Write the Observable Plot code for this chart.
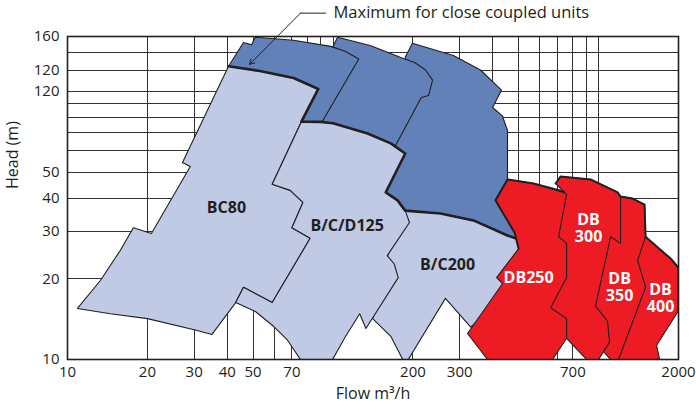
<!DOCTYPE html>
<html>
<head>
<meta charset="utf-8">
<script src="https://cdn.jsdelivr.net/npm/d3@7"></script>
<script src="https://cdn.jsdelivr.net/npm/@observablehq/plot@0.6"></script>
<style>
  body { margin: 0; background: #fff; }
</style>
</head>
<body>
<div id="chart"></div>
<script>
// ---- axis ticks (values and printed labels, as in the original) ----
const flowTicks = [10, 20, 30, 40, 50, 70, 200, 300, 800, 2000];
const flowTickLabels = ["10", "20", "30", "40", "50", "70", "200", "300", "700", "2000"];
const headTicks = [10, 20, 30, 40, 50, 100, 120, 160];
const headTickLabels = ["10", "20", "30", "40", "50", "120", "120", "160"];

// ---- grid ----
const flowGrid = [10, 20, 30, 40, 50, 60, 70, 80, 90, 100, 200, 300, 400, 500, 600, 700, 800, 900, 1000, 2000];
const headGrid = [10, 20, 30, 40, 50, 60, 70, 80, 90, 100, 120, 140, 160];

// ---- pump ranges: [flow m3/h, head m] ----
const bc80Upper = [[40.4,124],[46,152],[49.3,149],[51,159],[71,155],[98,147],[111,141],[125,132],[91,77],[76,77],[44.8,110]];
const bcd125Upper = [[104,159],[138,148],[184,132.5],[203,128],[223,120],[237,110],[229,96.4],[215,94.8],[172,62.8],[91,77],[99.6,146]];
const bc200Upper = [[199,151],[284,136],[359,120],[431,101],[399,87],[434,81],[454,71.4],[454,47.3],[508,33],[487,28.3],[277,29],[184,34.4],[144,39.2],[151,50.7],[172,62.8],[187,134]];

const bc80 = [[40.4,124],[53,119],[71,112],[88,102],[76,77],[59,45],[69,42.7],[77,38.5],[70,31],[82,28.3],[59,16.3],[46,18.6],[43,16.3],[35,12.4],[30,12.9],[20,14.2],[14.5,14.8],[10.9,15.5],[13.3,19.7],[15.8,25.5],[17.7,31],[20.7,29.5],[29,52.4],[27.1,54.3]];
const bcd125 = [[76,77],[90,76.9],[100,76],[135,69.6],[165,63.9],[187,58.6],[158,42],[175,39.2],[187,35.9],[194,32.4],[160,24.4],[170,22.7],[176,20.2],[133,13.05],[126,14.8],[111,12.1],[99.6,10],[75.4,10],[67.4,11.8],[59.7,13.3],[51,15.1],[43,16.3],[46,18.6],[59,16.3],[82,28.3],[70,31],[77,38.5],[69,42.7],[59,45]];
const bc200 = [[187,35.9],[254,35],[338,33],[454,29],[487,28.3],[555,25.5],[466,18.1],[330,13.2],[265,16.9],[192,10],[183,10],[165,12.2],[141,14.2],[151,18.1],[165,27.8]];

const db250 = [[454,46.9],[569,45.3],[758,41.6],[855,23.4],[758,12],[671,10],[382,10],[321,12.5],[435,19.2],[413,20.2],[500,25.9],[483,29.7],[409,39.2]];
const db300 = [[719,48.1],[933,46.9],[1179,42],[1210,40.5],[1319,27.8],[1129,12.8],[1100,11.6],[1000,10],[901,10],[758,12],[758,14.2],[660,15.6],[758,20.2],[758,27.1],[707,28.7],[758,41.2],[689,45.3]];
const db350 = [[1210,40.5],[1343,39.8],[1490,37.8],[1503,28.7],[1639,16.6],[1264,10],[1110,10],[1044,10.7],[1100,11.6],[1081,13.9],[974,15.8],[1110,28.7],[1210,27.1]];
const db400 = [[1503,28.7],[1668,26.2],[1867,23.8],[2000,22],[2000,15.2],[1654,11.3],[1698,10],[1189,10],[1503,18.6],[1403,23.4]];

// boundary lines
const closeCoupledMax = [[40.4,124],[53,119],[71,112],[88,102],[76,77],[90,76.9],[100,76],[135,69.6],[165,63.9],[187,58.6],[158,42],[175,39.2],[187,35.9],[254,35],[338,33],[454,29],[487,28.3]];
const dbEnvelopeA = [[500,25.9],[483,29.7],[409,39.2],[454,46.9],[569,45.3],[738,42.3]];
const dbEnvelopeB = [[689,45.3],[719,48.1],[933,46.9],[1179,42],[1210,40.5],[1343,39.8],[1490,37.8],[1503,28.7],[1668,26.2],[1867,23.8],[2000,22],[2000,15.2]];

// labels
const darkLabelNames = ["BC80", "B/C/D125", "B/C200"];
const darkLabelFlow = [39.7, 113, 270];
const darkLabelHead = [36.6, 31.6, 22.6];
const redLabelNames = ["DB250", "DB\n300", "DB\n350", "DB\n400"];
const redLabelFlow = [545, 917, 1200, 1712];
const redLabelHead = [20.2, 30.8, 18.6, 16.9];

// callout
const calloutText = "Maximum for close coupled units";
const calloutStart = [75.4, 195.5];
const calloutElbow = [93.7, 195.5];
const calloutTip = [48.5, 126];
const calloutTextAt = [100.4, 195.5];

const INK = "#231f20";
const LIGHT = "#c1cae5";
const DARK = "#6281b9";
const RED = "#ed1c24";

const pts = a => a.map(([f, h]) => ({f, h}));
const closed = a => pts([...a, a[0]]);
const shape = (a, fill) => Plot.line(closed(a), {
  x: "f", y: "h", fill, stroke: INK, strokeWidth: 1.1, strokeLinejoin: "round", clip: true
});

const chart = Plot.plot({
  width: 696,
  height: 416,
  marginLeft: 67,
  marginRight: 18,
  marginTop: 36,
  marginBottom: 57,
  style: {fontFamily: "'Open Sans', sans-serif", fontSize: "15px", color: INK, background: "#fff"},
  x: {type: "log", domain: [10, 2000], axis: null},
  y: {
    type: "log", domain: [10, 160], ticks: headTicks,
    tickFormat: d => headTickLabels[headTicks.indexOf(d)],
    tickSize: 0, tickPadding: 8, label: null
  },
  marks: [
    Plot.ruleX(flowGrid, {stroke: "#333", strokeWidth: 1, shapeRendering: "crispEdges"}),
    Plot.ruleY(headGrid, {stroke: "#333", strokeWidth: 1, shapeRendering: "crispEdges"}),
    shape(bc200Upper, DARK),
    shape(bcd125Upper, DARK),
    shape(bc80Upper, DARK),
    shape(bc200, LIGHT),
    shape(bc80, LIGHT),
    shape(bcd125, LIGHT),
    shape(db250, RED),
    shape(db300, RED),
    shape(db350, RED),
    shape(db400, RED),
    Plot.line(pts(closeCoupledMax), {x: "f", y: "h", stroke: INK, strokeWidth: 2.6, strokeLinejoin: "round", clip: true}),
    Plot.line(pts(dbEnvelopeA), {x: "f", y: "h", stroke: INK, strokeWidth: 2, strokeLinejoin: "round", clip: true}),
    Plot.line(pts(dbEnvelopeB), {x: "f", y: "h", stroke: INK, strokeWidth: 2, strokeLinejoin: "round", clip: true}),
    Plot.text(darkLabelNames, {
      x: (d, i) => darkLabelFlow[i], y: (d, i) => darkLabelHead[i], text: d => d,
      fill: INK, fontWeight: "bold", fontSize: 16
    }),
    Plot.text(redLabelNames, {
      x: (d, i) => redLabelFlow[i], y: (d, i) => redLabelHead[i], text: d => d,
      fill: "#fff", fontWeight: "bold", fontSize: 16, lineHeight: 1.05
    }),
    Plot.frame({stroke: INK, strokeWidth: 1.6}),
    // x tick labels
    Plot.text(flowTicks, {
      x: d => d, text: (d, i) => flowTickLabels[i],
      frameAnchor: "bottom", dy: 17, fontSize: 15, fill: INK
    }),
    Plot.line(pts([calloutStart, calloutElbow]), {x: "f", y: "h", stroke: INK, strokeWidth: 1}),
    Plot.arrow([0], {
      x1: () => calloutStart[0], y1: () => calloutStart[1],
      x2: () => calloutTip[0], y2: () => calloutTip[1],
      stroke: INK, strokeWidth: 1, headLength: 8
    }),
    Plot.text([calloutText], {
      x: () => calloutTextAt[0], y: () => calloutTextAt[1], text: d => d,
      textAnchor: "start", fontSize: 16.5, fill: INK
    }),
    Plot.text(["Flow m³/h"], {frameAnchor: "bottom", dy: 39, fontSize: 16, fill: INK}),
    Plot.text(["Head (m)"], {frameAnchor: "left", dx: -55, dy: -9, rotate: -90, fontSize: 16, fill: INK})
  ]
});
document.getElementById("chart").appendChild(chart);
</script>
</body>
</html>
